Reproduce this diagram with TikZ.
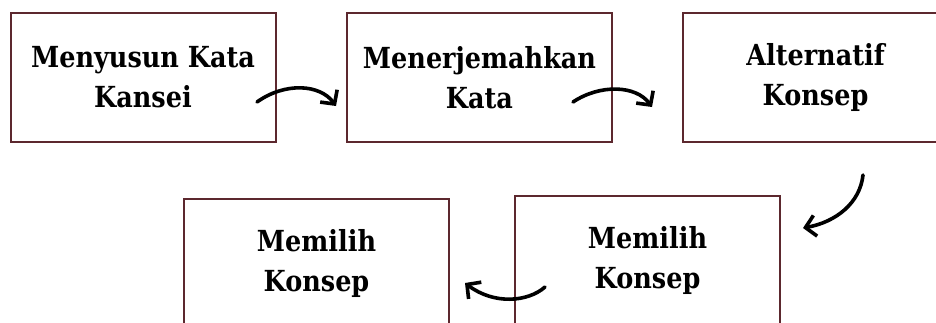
\documentclass[tikz,border=0pt]{standalone}
\usepackage{fontspec}
\setmainfont{DejaVu Serif}[FakeStretch=0.88]
\usetikzlibrary{arrows.meta}
\definecolor{boxline}{RGB}{92,40,46}
\newcommand\boxwidth{265pt}
\newcommand\boxheight{129pt}

\begin{document}
\begin{tikzpicture}[x=1pt,y=-1pt,
    stepbox/.style={draw=boxline,line width=2pt,fill=white,
      minimum width=\boxwidth,minimum height=\boxheight,align=center,
      font=\fontsize{29}{40}\selectfont\bfseries},
    curvearrow/.style={line width=3.6pt,line cap=round,line join=round,
      -{Straight Barb[length=10pt,width=21pt,line width=3.6pt]}}]
    \useasboundingbox (0,0) rectangle (936,322);
    \clip (0,0) rectangle (936,322);

    \node[stepbox] (kansei) at (143,77.5) {Menyusun Kata\\Kansei};
    \node[stepbox] (terjemah) at (479.5,77.5) {Menerjemahkan\\Kata};
    \node[stepbox] (alternatif) at (815.5,77.5) {Alternatif\\Konsep};
    \node[stepbox] (pilihkanan) at (647.5,260.5) {Memilih\\Konsep};
    \node[stepbox] (pilihkiri) at (316.5,263.5) {Memilih\\Konsep};

    % ujung-ujung panah
    \coordinate (a1) at (257,102);
    \coordinate (b1) at (336,106);
    \coordinate (a2) at (573,102);
    \coordinate (b2) at (652,107);
    \coordinate (a3) at (863,175);
    \coordinate (b3) at (803,228);
    \coordinate (a4) at (545,287);
    \coordinate (b4) at (465,283);

    \draw[curvearrow] (a1) .. controls (285,82) and (320,84) .. (b1);
    \draw[curvearrow] (a2) .. controls (600,84) and (636,85) .. (b2);
    \draw[curvearrow] (a3) .. controls (860,203) and (836,222) .. (b3);
    \draw[curvearrow] (a4) .. controls (528,302) and (494,305) .. (b4);

  \end{tikzpicture}
\end{document}
